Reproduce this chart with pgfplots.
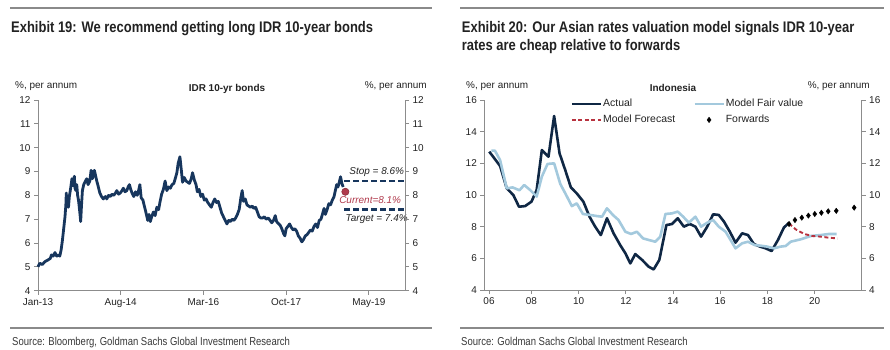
\documentclass[border=0pt]{standalone}
\usepackage{fontspec}
\setmainfont{Liberation Sans}
\newfontfamily\hdrfont[FakeStretch=0.845]{Liberation Sans}
\newfontfamily\srcfont[FakeStretch=0.83]{Liberation Sans}
\usepackage{pgfplots}
\pgfplotsset{compat=1.18}
\definecolor{navy}{HTML}{17365D}
\definecolor{navyd}{HTML}{0F2744}
\definecolor{lblue}{HTML}{A3C9DD}
\definecolor{fred}{HTML}{B8323F}
\definecolor{curred}{HTML}{B03A4C}
\definecolor{axgrey}{HTML}{8C8C8C}
\definecolor{rulegrey}{HTML}{8A8A8A}
\definecolor{txt}{HTML}{222222}
\pgfplotsset{
 base/.style={scale only axis, enlargelimits=false,
   axis line style={axgrey, line width=0.8bp},
   tick style={axgrey, line width=0.8bp}, major tick length=4bp, tick align=outside,
   tick label style={font=\fontsize{10}{12}\selectfont, text=txt},
   /pgf/number format/assume math mode=true, clip=false},
 linelegend/.style={legend image code/.code={\draw[##1] (0bp,0bp) -- (29bp,0bp);}},
 marklegend/.style={legend image code/.code={\draw[##1] plot coordinates {(14.5bp,0bp)};}},
}
\pgfplotstableread{
m v
0 5.0
0.4 5.15
1 5.1
1.6 5.22
2.2 5.28
2.8 5.35
3.1 5.5
3.5 5.45
3.9 5.6
4.3 5.45
4.7 5.5
5.0 5.45
5.3 5.7
5.6 6.1
5.9 6.6
6.2 7.1
6.4 7.6
6.5 8.1
6.6 7.5
6.8 7.9
7.0 7.5
7.2 7.95
7.5 8.3
7.8 8.7
8.1 8.4
8.35 8.8
8.5 8.3
8.7 8.2
8.9 8.45
9.1 8.0
9.3 7.8
9.6 7.3
9.8 6.9
10.0 7.6
10.2 8.2
10.5 8.45
10.9 8.6
11.2 8.7
11.5 8.45
11.9 8.6
12.2 9.05
12.5 8.7
12.8 8.9
12.95 9.05
13.2 8.85
13.5 8.6
13.8 8.4
14.2 8.1
14.6 7.95
15.0 7.85
15.5 7.95
15.8 7.85
16.2 8.0
16.6 7.95
17.0 8.05
17.4 8.0
17.8 8.1
18.1 8.2
18.5 8.05
18.9 8.1
19.3 8.2
19.6 8.3
20.0 8.15
20.4 8.2
20.7 8.35
21.0 8.45
21.3 8.25
21.6 8.1
22.0 7.95
22.4 8.15
22.8 8.0
23.1 8.2
23.4 8.45
23.7 7.9
24.1 7.8
24.5 7.5
24.9 7.2
25.2 6.95
25.5 7.2
25.8 6.9
26.1 7.1
26.5 7.3
26.9 7.15
27.3 7.5
27.7 7.4
28.0 7.7
28.4 8.05
28.8 8.25
29.2 8.6
29.6 8.2
30.0 8.35
30.4 8.3
30.8 8.45
31.2 8.5
31.6 8.75
31.9 8.95
32.2 9.35
32.6 9.62
32.9 9.1
33.2 8.55
33.6 8.75
34.0 8.6
34.4 8.55
34.8 8.5
35.2 8.7
35.5 8.95
35.9 8.65
36.3 8.45
36.6 8.15
37.0 8.25
37.4 7.95
37.8 8.05
38.2 7.8
38.6 7.85
39.0 7.7
39.4 7.6
39.8 7.5
40.2 7.7
40.6 7.85
41.0 7.7
41.4 7.75
41.8 7.5
42.2 7.25
42.6 7.1
43.0 6.95
43.4 6.8
43.8 6.95
44.2 6.9
44.6 7.0
45.0 6.95
45.4 7.05
45.8 7.2
46.2 7.4
46.6 7.9
46.9 8.2
47.2 7.75
47.6 7.85
48.0 7.6
48.4 7.55
48.8 7.5
49.2 7.55
49.6 7.45
50.0 7.5
50.4 7.3
50.8 7.1
51.2 7.05
51.6 7.05
52.0 7.1
52.4 7.0
52.9 7.05
53.3 6.95
53.7 6.85
54.1 6.95
54.5 7.15
54.8 6.9
55.2 6.82
55.6 6.75
56.0 6.6
56.4 6.4
56.7 6.3
57.0 6.6
57.4 6.7
57.8 6.8
58.2 6.65
58.6 6.55
59.0 6.6
59.4 6.5
59.8 6.3
60.2 6.2
60.6 6.05
61.0 6.15
61.4 6.3
61.8 6.35
62.2 6.45
62.6 6.55
63.0 6.5
63.4 6.7
63.8 6.8
64.2 6.65
64.6 6.95
65.0 7.0
65.4 7.25
65.7 7.45
66.0 7.2
66.4 7.4
66.8 7.65
67.2 7.6
67.6 7.8
68.0 7.95
68.3 8.2
68.6 8.45
68.9 8.35
69.2 8.55
69.5 8.78
69.8 8.5
70.1 8.35
}\idr
\pgfplotstableread{
y v
2006.21 12.74
2006.67 11.83
2006.95 10.42
2007.23 10.0
2007.47 9.26
2007.73 9.3
2008.0 9.58
2008.22 10.32
2008.44 12.84
2008.72 12.42
2008.96 14.99
2009.19 12.63
2009.43 11.58
2009.67 10.48
2009.92 10.1
2010.2 9.58
2010.46 8.63
2010.7 8.0
2010.94 7.47
2011.2 8.53
2011.48 7.58
2011.76 6.84
2011.98 6.32
2012.19 5.68
2012.4 6.27
2012.69 5.9
2012.97 5.47
2013.18 5.3
2013.42 5.9
2013.72 8.1
2013.96 8.17
2014.2 8.53
2014.46 8.0
2014.71 8.17
2014.95 8.0
2015.19 7.37
2015.45 8.0
2015.7 8.78
2015.94 8.74
2016.16 8.32
2016.41 7.68
2016.65 6.99
2016.93 7.58
2017.18 7.47
2017.43 6.9
2017.69 6.74
2017.93 6.63
2018.18 6.46
2018.45 7.16
2018.7 7.94
2018.92 8.25
}\actual
\pgfplotstableread{
y v
2006.3 12.8
2006.45 12.8
2006.67 12.2
2006.95 10.42
2007.2 10.48
2007.49 10.3
2007.69 10.63
2007.94 10.32
2008.22 9.9
2008.44 11.16
2008.68 11.96
2008.96 12.0
2009.22 10.7
2009.47 10.0
2009.71 9.3
2009.92 9.47
2010.18 8.8
2010.49 8.74
2010.77 8.67
2010.99 8.63
2011.2 9.16
2011.45 8.74
2011.69 8.42
2011.98 7.68
2012.22 7.54
2012.47 7.68
2012.73 7.26
2012.97 7.16
2013.25 7.05
2013.46 7.37
2013.68 8.8
2013.96 8.84
2014.2 8.95
2014.43 8.63
2014.67 8.25
2014.95 8.63
2015.19 8.0
2015.45 8.25
2015.7 8.42
2015.94 8.0
2016.23 7.68
2016.44 7.16
2016.65 6.63
2016.93 6.95
2017.18 7.05
2017.46 6.84
2017.71 6.8
2017.99 6.74
2018.28 6.63
2018.56 6.74
2018.78 6.78
2018.99 7.05
2019.41 7.2
2019.84 7.41
2020.26 7.47
2020.62 7.54
2020.94 7.54
}\fair
\pgfplotstableread{
y v
2018.92 8.2
2019.2 7.83
2019.56 7.54
2019.91 7.41
2020.26 7.37
2020.62 7.3
2020.97 7.26
}\fcst
\pgfplotstableread{
y v
2018.92 8.17
2019.17 8.42
2019.46 8.57
2019.74 8.7
2020.01 8.8
2020.29 8.88
2020.58 8.97
2020.92 9.0
2021.68 9.2
}\fwd
\begin{document}
\begin{tikzpicture}[x=1bp,y=1bp]
\path[use as bounding box] (0,0) rectangle (890,349);
% rules
\draw[rulegrey, line width=1.2bp] (10,341) -- (432,341);
\draw[rulegrey, line width=1.2bp] (460,341) -- (884,341);
\draw[rulegrey, line width=1.2bp] (10,21) -- (432,21);
\draw[rulegrey, line width=1.2bp] (460,21) -- (884,21);
% headers
\node[anchor=base west, inner sep=0, text=txt, font=\hdrfont\bfseries\fontsize{15.4}{18}\selectfont] at (11,317) {Exhibit 19: We recommend getting long IDR 10-year bonds};
\node[anchor=base west, inner sep=0, text=txt, font=\hdrfont\bfseries\fontsize{15.4}{18}\selectfont] at (461.7,317) {Exhibit 20: Our Asian rates valuation model signals IDR 10-year};
\node[anchor=base west, inner sep=0, text=txt, font=\hdrfont\bfseries\fontsize{15.4}{18}\selectfont] at (461.7,299) {rates are cheap relative to forwards};
% sources
\node[anchor=base west, inner sep=0, text=txt!90, font=\srcfont\fontsize{11.5}{13}\selectfont] at (12,4) {Source: Bloomberg, Goldman Sachs Global Investment Research};
\node[anchor=base west, inner sep=0, text=txt!90, font=\srcfont\fontsize{11.5}{13}\selectfont] at (461,4) {Source: Goldman Sachs Global Investment Research};
% unit labels and titles
\node[anchor=base west, inner sep=0, text=txt, font=\fontsize{10}{12}\selectfont] at (15,261) {\%, per annum};
\node[anchor=base east, inner sep=0, text=txt, font=\fontsize{10}{12}\selectfont] at (427,261) {\%, per annum};
\node[anchor=base, inner sep=0, text=txt, font=\bfseries\fontsize{10}{12}\selectfont] at (227,257.5) {IDR 10-yr bonds};
\node[anchor=base west, inner sep=0, text=txt, font=\fontsize{10}{12}\selectfont] at (466,261) {\%, per annum};
\node[anchor=base east, inner sep=0, text=txt, font=\fontsize{10}{12}\selectfont] at (870,261) {\%, per annum};
\node[anchor=base, inner sep=0, text=txt, font=\bfseries\fontsize{10}{12}\selectfont] at (673,257.5) {Indonesia};

% ---------- left chart ----------
\begin{axis}[base, at={(38bp,58.3bp)}, anchor=south west, width=367bp, height=190.7bp,
  xmin=0, xmax=84.3, ymin=4, ymax=12, axis x line*=bottom, axis y line*=left,
  xtick={0,19,38,57,76}, xticklabels={Jan-13,Aug-14,Mar-16,Oct-17,May-19}, ytick={4,5,...,12}]
\addplot[navy, line width=2.8bp, line join=round] table[x=m,y=v] {\idr};
\addplot[navy, line width=2.6bp, dash pattern=on 6bp off 3bp] coordinates {(70.3,8.6) (84.3,8.6)};
\addplot[navy, line width=2.6bp, dash pattern=on 6bp off 3bp] coordinates {(70.3,7.4) (84.3,7.4)};
\addplot[only marks, mark=*, mark size=3.6bp, mark options={fill=curred, draw=curred!80!black, line width=0.6bp}] coordinates {(70.6,8.15)};
\node[font=\itshape\fontsize{10}{12}\selectfont, text=txt] at (axis cs:77.8,8.98) {Stop = 8.6\%};
\node[font=\itshape\fontsize{10}{12}\selectfont, text=curred] at (axis cs:76.3,7.80) {Current=8.1\%};
\node[font=\itshape\fontsize{10}{12}\selectfont, text=txt] at (axis cs:77.8,7.0) {Target = 7.4\%};
\end{axis}
\begin{axis}[base, at={(38bp,58.3bp)}, anchor=south west, width=367bp, height=190.7bp,
  xmin=0, xmax=84.3, ymin=4, ymax=12, axis x line=none, axis y line*=right, ytick={4,5,...,12}]
\addplot[draw=none] coordinates {(0,4)};
\end{axis}

% ---------- right chart ----------
\begin{axis}[base, at={(484.3bp,59bp)}, anchor=south west, width=377.4bp, height=190bp,
  xmin=2006, xmax=2022, ymin=4, ymax=16, axis x line*=bottom, axis y line*=left,
  xtick={2006.2,2008,2010,2012,2014,2016,2018,2020}, xticklabels={06,08,10,12,14,16,18,20},
  ytick={4,6,...,16},
  legend columns=2, linelegend,
  legend style={at={(axis description cs:0.228,1.01)}, anchor=north west, draw=none, fill=none,
    font=\fontsize{10.5}{12}\selectfont, text=txt, inner sep=0pt, row sep=5bp,
    /tikz/every even column/.append style={column sep=17bp},
    nodes={inner sep=1bp}},
  legend cell align=left]
\addplot[navyd, line width=2.6bp, line join=round] table[x=y,y=v] {\actual};
\addlegendentry{Actual}
\addplot[lblue, line width=2.6bp, line join=round] table[x=y,y=v] {\fair};
\addlegendentry{Model Fair value}
\addplot[fred, line width=1.9bp, dash pattern=on 4bp off 2.5bp] table[x=y,y=v] {\fcst};
\addlegendentry{Model Forecast}
\addplot[only marks, mark=diamond*, mark size=2.7bp, mark options={fill=black, draw=black}, marklegend] table[x=y,y=v] {\fwd};
\addlegendentry{Forwards}
\end{axis}
\begin{axis}[base, at={(484.3bp,59bp)}, anchor=south west, width=377.4bp, height=190bp,
  xmin=2006, xmax=2022, ymin=4, ymax=16, axis x line=none, axis y line*=right, ytick={4,6,...,16}]
\addplot[draw=none] coordinates {(2006,4)};
\end{axis}
\end{tikzpicture}
\end{document}
